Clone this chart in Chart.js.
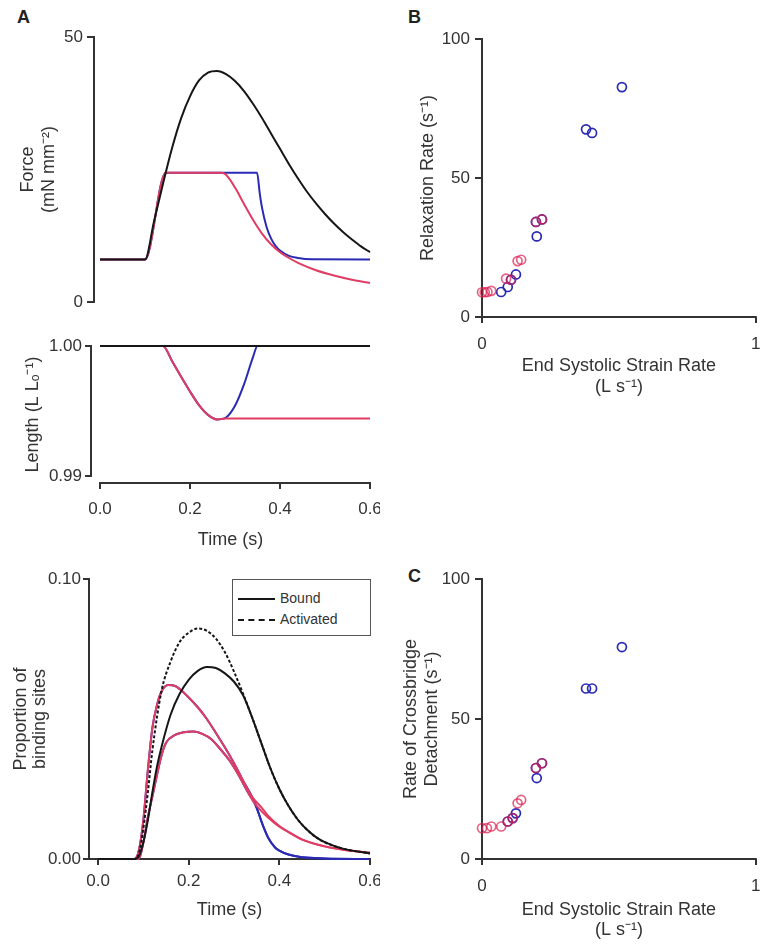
<!DOCTYPE html>
<html><head><meta charset="utf-8">
<script src="https://cdn.jsdelivr.net/npm/chart.js@4.4.1/dist/chart.umd.min.js"></script>
<style>
html,body{margin:0;padding:0;background:#fff;}
body{width:762px;height:950px;position:relative;overflow:hidden;font-family:"Liberation Sans",Arial,sans-serif;}
canvas{position:absolute;}
.lbl{position:absolute;font-weight:bold;font-size:18px;color:#222;line-height:18px;}
#legend{position:absolute;left:232px;top:579px;width:139px;height:57px;border:1px solid #555;background:#fff;box-sizing:border-box;}
.li{position:absolute;left:5px;height:16px;font-size:14px;color:#333;line-height:16px;white-space:nowrap;}
.li span.sw{display:inline-block;width:37px;height:0;vertical-align:middle;margin-right:5px;}
</style></head><body>
<div class="lbl" style="left:17px;top:8px">A</div>
<div class="lbl" style="left:408px;top:8px">B</div>
<div class="lbl" style="left:408px;top:567px">C</div>
<canvas id="cForce" width="380" height="290" style="left:0;top:20px"></canvas>
<canvas id="cLength" width="380" height="230" style="left:0;top:330px"></canvas>
<canvas id="cBind" width="380" height="385" style="left:0;top:565px"></canvas>
<canvas id="cB" width="362" height="380" style="left:400px;top:20px"></canvas>
<canvas id="cC" width="362" height="385" style="left:400px;top:565px"></canvas>
<div id="legend"></div>
<script>
// ---------- Panel A: force ----------
const forceTimeIso = [0, 0.10, 0.12, 0.14, 0.16, 0.18, 0.20, 0.22, 0.24, 0.26, 0.28, 0.30, 0.32, 0.34, 0.36, 0.38, 0.40, 0.42, 0.44, 0.46, 0.48, 0.50, 0.52, 0.54, 0.56, 0.58, 0.60];
const forceIso     = [8, 8, 15.2, 22.3, 29.0, 34.6, 38.8, 41.8, 43.3, 43.6, 43.0, 41.7, 39.8, 37.4, 34.7, 31.8, 28.9, 26.0, 23.3, 20.8, 18.6, 16.6, 14.8, 13.2, 11.8, 10.5, 9.4];
const forceTimeRed = [0, 0.10, 0.146, 0.27, 0.28, 0.30, 0.32, 0.34, 0.36, 0.38, 0.40, 0.42, 0.44, 0.48, 0.52, 0.56, 0.60];
const forceRed     = [8, 8, 24.4, 24.4, 24.0, 21.6, 18.5, 15.5, 12.9, 10.9, 9.4, 8.3, 7.4, 6.0, 5.0, 4.2, 3.6];
const forceTimeBlue = [0, 0.10, 0.146, 0.349, 0.355, 0.36, 0.37, 0.38, 0.39, 0.40, 0.42, 0.44, 0.47, 0.60];
const forceBlue     = [8, 8, 24.4, 24.4, 20.5, 17.8, 14.2, 12.0, 10.6, 9.7, 8.7, 8.3, 8.05, 8.0];

// ---------- Panel A: length ----------
const lengthTimeIso = [0, 0.6];
const lengthIso     = [1.0, 1.0];
const lengthTimeRed = [0, 0.14, 0.16, 0.18, 0.20, 0.22, 0.24, 0.26, 0.28, 0.60];
const lengthRed     = [1.0, 1.0, 0.99885, 0.99765, 0.99650, 0.99545, 0.99470, 0.99435, 0.99442, 0.99442];
const lengthTimeBlue = [0, 0.14, 0.16, 0.18, 0.20, 0.22, 0.24, 0.26, 0.28, 0.30, 0.32, 0.34, 0.35, 0.60];
const lengthBlue     = [1.0, 1.0, 0.99885, 0.99765, 0.99650, 0.99545, 0.99470, 0.99435, 0.99450, 0.99540, 0.99705, 0.99915, 1.0, 1.0];

// ---------- Panel A: binding sites ----------
const bindTimeIsoAct = [0, 0.08, 0.09, 0.10, 0.11, 0.12, 0.14, 0.16, 0.18, 0.20, 0.22, 0.24, 0.26, 0.28, 0.30, 0.32, 0.34, 0.36, 0.38, 0.40, 0.42, 0.44, 0.46, 0.48, 0.50, 0.54, 0.60];
const bindIsoAct     = [0, 0, 0.002, 0.011, 0.024, 0.039, 0.060, 0.0705, 0.0775, 0.0808, 0.0823, 0.0815, 0.0787, 0.0738, 0.0669, 0.0590, 0.0505, 0.0415, 0.0325, 0.0250, 0.0190, 0.0142, 0.0106, 0.0079, 0.0060, 0.0037, 0.0020];
const bindTimeIsoBound = [0, 0.08, 0.09, 0.10, 0.11, 0.12, 0.13, 0.14, 0.16, 0.18, 0.20, 0.22, 0.24, 0.26, 0.28, 0.30, 0.32, 0.34, 0.36, 0.38, 0.40, 0.42, 0.44, 0.46, 0.48, 0.50, 0.54, 0.60];
const bindIsoBound     = [0, 0, 0.001, 0.006, 0.014, 0.024, 0.033, 0.040, 0.0515, 0.0590, 0.0640, 0.0672, 0.0686, 0.0682, 0.0663, 0.0633, 0.0585, 0.0505, 0.0415, 0.0325, 0.0250, 0.0190, 0.0142, 0.0106, 0.0079, 0.0060, 0.0037, 0.0020];
const bindTimeRedAct = [0, 0.08, 0.09, 0.10, 0.11, 0.12, 0.13, 0.14, 0.155, 0.17, 0.18, 0.20, 0.22, 0.24, 0.26, 0.28, 0.30, 0.32, 0.34, 0.36, 0.375, 0.40, 0.42, 0.45, 0.50, 0.55, 0.60];
const bindRedAct     = [0, 0, 0.003, 0.014, 0.032, 0.047, 0.055, 0.0598, 0.0621, 0.0618, 0.0607, 0.0577, 0.0542, 0.0500, 0.0450, 0.0398, 0.0342, 0.0280, 0.0222, 0.0185, 0.0155, 0.0118, 0.0097, 0.0070, 0.0045, 0.0031, 0.0022];
const bindTimeRedBound = [0, 0.09, 0.10, 0.11, 0.12, 0.13, 0.14, 0.15, 0.17, 0.19, 0.21, 0.23, 0.25, 0.27, 0.29, 0.31, 0.33, 0.345, 0.36, 0.375, 0.40, 0.42, 0.45, 0.50, 0.55, 0.60];
const bindRedBound     = [0, 0, 0.006, 0.015, 0.0225, 0.030, 0.037, 0.0415, 0.0443, 0.0453, 0.0455, 0.0447, 0.0428, 0.0392, 0.0352, 0.0300, 0.0240, 0.0200, 0.0172, 0.0148, 0.0115, 0.0096, 0.0069, 0.0045, 0.0031, 0.0022];
const bindTimeBlueAct = [0, 0.08, 0.09, 0.10, 0.11, 0.12, 0.13, 0.14, 0.155, 0.17, 0.18, 0.20, 0.22, 0.24, 0.26, 0.28, 0.30, 0.32, 0.34, 0.35, 0.36, 0.375, 0.39, 0.40, 0.42, 0.45, 0.50, 0.60];
const bindBlueAct     = [0, 0, 0.003, 0.014, 0.032, 0.047, 0.055, 0.0598, 0.0621, 0.0618, 0.0607, 0.0577, 0.0542, 0.0500, 0.0450, 0.0398, 0.0342, 0.0280, 0.0222, 0.0185, 0.0135, 0.0078, 0.0042, 0.0030, 0.0016, 0.0006, 0.0002, 0];
const bindTimeBlueBound = [0, 0.09, 0.10, 0.11, 0.12, 0.13, 0.14, 0.15, 0.17, 0.19, 0.21, 0.23, 0.25, 0.27, 0.29, 0.31, 0.33, 0.345, 0.355, 0.365, 0.375, 0.39, 0.40, 0.42, 0.45, 0.50, 0.60];
const bindBlueBound     = [0, 0, 0.006, 0.015, 0.0225, 0.030, 0.037, 0.0415, 0.0443, 0.0453, 0.0455, 0.0447, 0.0428, 0.0392, 0.0352, 0.0300, 0.0240, 0.0200, 0.0160, 0.0115, 0.0076, 0.0042, 0.0030, 0.0016, 0.0006, 0.0002, 0];

// ---------- Panel B: relaxation rate ----------
const strainBlueB = [0.511, 0.380, 0.402, 0.200, 0.197, 0.219, 0.124, 0.106, 0.094, 0.070];
const relaxBlue   = [82.7, 67.5, 66.2, 29.0, 34.2, 35.1, 15.3, 13.4, 10.8, 9.0];
const strainRedB  = [0.197, 0.219, 0.143, 0.130, 0.106, 0.088, 0.034, 0.020, 0.010, 0.0];
const relaxRed    = [34.2, 35.1, 20.6, 20.1, 13.4, 13.8, 9.4, 9.0, 8.9, 8.9];

// ---------- Panel C: crossbridge detachment ----------
const strainBlueC = [0.511, 0.380, 0.402, 0.200, 0.197, 0.219, 0.124, 0.112, 0.094];
const detachBlue  = [75.7, 60.9, 60.9, 28.9, 32.5, 34.2, 16.3, 14.6, 13.4];
const strainRedC  = [0.197, 0.219, 0.143, 0.130, 0.112, 0.094, 0.070, 0.034, 0.018, 0.0];
const detachRed   = [32.5, 34.2, 21.1, 19.9, 14.6, 13.4, 11.6, 11.6, 11.0, 11.0];

// ---------- Tick values ----------
const timeTicks = [0, 0.2, 0.4, 0.6];
const forceTicks = [0, 50];
const lengthTicks = [0.99, 1.00];
const bindTicks = [0, 0.1];
const rateTicks = [0, 50, 100];
const strainTicks = [0, 1];

// ---------- styling ----------
const AX = '#333', TXT = '#333';
const BLACK = '#161616', RED = '#e03c64', BLUE = '#2a2ab4';
const TICK_SIZE = 17, TITLE_SIZE = 18;
Chart.defaults.font.family = '"Liberation Sans", Arial, sans-serif';
Chart.defaults.color = TXT;

const axisLines = {
  id: 'axisLines',
  beforeDatasetsDraw(chart, args, o) {
    const ctx = chart.ctx;
    (o.lines || []).forEach(l => {
      const s = chart.scales[l.scale];
      const a = l.from === 'min' ? s.min : l.from;
      const b = l.to === 'max' ? s.max : l.to;
      ctx.save();
      ctx.strokeStyle = AX; ctx.lineWidth = 2; ctx.lineCap = 'square';
      ctx.beginPath();
      if (s.isHorizontal()) {
        ctx.moveTo(s.getPixelForValue(a), s.top); ctx.lineTo(s.getPixelForValue(b), s.top);
      } else {
        ctx.moveTo(s.right, s.getPixelForValue(a)); ctx.lineTo(s.right, s.getPixelForValue(b));
      }
      ctx.stroke(); ctx.restore();
    });
  }
};
Chart.register(axisLines);

function axisCfg(o, isY) {
  if (o.display === false) return {type: 'linear', display: false, min: o.min, max: o.max};
  const c = {
    type: 'linear', min: o.min, max: o.max,
    afterBuildTicks: s => { s.ticks = o.ticks.map(v => ({value: v})); },
    afterFit: s => { if (isY) s.width = o.size; else s.height = o.size; s.paddingLeft = 0; s.paddingRight = 0; s.paddingTop = 0; s.paddingBottom = 0; },
    border: {display: false},
    grid: {drawOnChartArea: false, drawTicks: true, tickLength: o.tickLen, color: AX, lineWidth: 2},
    ticks: {callback: o.fmt, padding: o.tickPad, font: {size: TICK_SIZE}, color: TXT, maxRotation: 0, autoSkip: false},
    title: {display: false}
  };
  if (o.title) {
    c.title = {display: true, text: o.title, color: TXT,
      font: {size: TITLE_SIZE, lineHeight: o.titleLH || 1.2},
      padding: isY ? {top: o.titlePad, bottom: 0} : {top: 0, bottom: o.titlePad}};
  }
  return c;
}
function options(p) {
  return {
    responsive: false, animation: false, devicePixelRatio: 1,
    layout: {padding: p.padding},
    plugins: {legend: {display: false}, tooltip: {enabled: false}, axisLines: {lines: p.lines}},
    scales: {x: axisCfg(p.x, false), y: axisCfg(p.y, true)},
    elements: {point: {radius: 0}}
  };
}
function line(t, v, color, extra) {
  return Object.assign({data: t.map((x, i) => ({x: x, y: v[i]})), borderColor: color, borderWidth: 2,
    pointRadius: 0, fill: false, cubicInterpolationMode: 'monotone', clip: false}, extra || {});
}
function pts(xs, ys, color, label) {
  return {label: label, data: xs.map((x, i) => ({x: x, y: ys[i]})), showLine: false, pointStyle: 'circle',
    pointRadius: 4.5, pointBorderWidth: 1.7, pointBorderColor: color, pointBackgroundColor: 'rgba(0,0,0,0)', clip: false};
}
const f1 = v => Number(v).toFixed(1), f2 = v => Number(v).toFixed(2), f0 = v => String(v);

// Force
new Chart(document.getElementById('cForce'), {
  type: 'line',
  data: {datasets: [line(forceTimeIso, forceIso, BLACK), line(forceTimeRed, forceRed, RED), line(forceTimeBlue, forceBlue, BLUE)]},
  options: options({
    padding: {top: 17, right: 10, bottom: 8, left: 0},
    x: {display: false, min: -0.01333, max: 0.6},
    y: {min: 0, max: 50, ticks: forceTicks, fmt: f0, size: 94, tickLen: 7, tickPad: 4,
        title: ['Force', '(mN mm\u207B\u00B2)'], titleLH: 21 / TITLE_SIZE, titlePad: 17.5},
    lines: [{scale: 'y', from: 0, to: 50}]
  })
});

// Length
new Chart(document.getElementById('cLength'), {
  type: 'line',
  data: {datasets: [line(lengthTimeIso, lengthIso, BLACK), line(lengthTimeRed, lengthRed, RED), line(lengthTimeBlue, lengthBlue, BLUE)]},
  options: options({
    padding: {top: 16, right: 10, bottom: 0, left: 0},
    x: {min: -0.02, max: 0.6, ticks: timeTicks, fmt: f1, size: 77, tickLen: 6, tickPad: 10.5,
        title: 'Time (s)', titlePad: 9.2},
    y: {min: 0.989462, max: 1.0, ticks: lengthTicks, fmt: f2, size: 91, tickLen: 6, tickPad: 3,
        title: 'Length (L L\u2092\u207B\u00B9)', titlePad: 22.2},
    lines: [{scale: 'x', from: 0, to: 0.6}, {scale: 'y', from: 0.99, to: 1.0}]
  })
});

// Binding sites
const bindChart = new Chart(document.getElementById('cBind'), {
  type: 'line',
  data: {datasets: [
    line(bindTimeIsoBound, bindIsoBound, BLACK, {label: 'Bound'}),
    line(bindTimeIsoAct, bindIsoAct, BLACK, {label: 'Activated', borderDash: [3, 2]}),
    line(bindTimeRedAct, bindRedAct, RED),
    line(bindTimeRedBound, bindRedBound, RED),
    line(bindTimeBlueAct, bindBlueAct, BLUE),
    line(bindTimeBlueBound, bindBlueBound, BLUE)
  ]},
  options: options({
    padding: {top: 14, right: 10, bottom: 0, left: 0},
    x: {min: -0.02, max: 0.6, ticks: timeTicks, fmt: f1, size: 91, tickLen: 6, tickPad: 6.5,
        title: 'Time (s)', titlePad: 29.2},
    y: {min: 0, max: 0.1, ticks: bindTicks, fmt: f2, size: 89, tickLen: 6, tickPad: 2,
        title: ['Proportion of', 'binding sites'], titleLH: 19 / TITLE_SIZE, titlePad: 11.5},
    lines: [{scale: 'x', from: 'min', to: 0.6}, {scale: 'y', from: 0, to: 0.1}]
  })
});

// HTML legend built from the labelled datasets
(function () {
  const lg = document.getElementById('legend');
  bindChart.data.datasets.filter(d => d.label).forEach((d, i) => {
    const row = document.createElement('div');
    row.className = 'li';
    row.style.top = (10 + i * 21) + 'px';
    const sw = document.createElement('span');
    sw.className = 'sw';
    sw.style.borderTop = '2px ' + (d.borderDash ? 'dashed ' : 'solid ') + d.borderColor;
    row.appendChild(sw);
    row.appendChild(document.createTextNode(d.label));
    lg.appendChild(row);
  });
})();

// Panel B
new Chart(document.getElementById('cB'), {
  type: 'scatter',
  data: {datasets: [pts(strainRedB, relaxRed, 'rgba(220,30,80,0.7)', 'Red'), pts(strainBlueB, relaxBlue, BLUE, 'Blue')]},
  options: options({
    padding: {top: 19, right: 2, bottom: 0, left: 0},
    x: {min: 0, max: 1, ticks: strainTicks, fmt: f0, size: 83, tickLen: 6, tickPad: 11.5,
        title: ['End Systolic Strain Rate', '(L s\u207B\u00B9)'], titleLH: 21 / TITLE_SIZE, titlePad: 2.5},
    y: {min: 0, max: 100, ticks: rateTicks, fmt: f0, size: 82, tickLen: 7, tickPad: 5,
        title: 'Relaxation Rate (s\u207B\u00B9)', titlePad: 17.2},
    lines: [{scale: 'x', from: 0, to: 1}, {scale: 'y', from: 0, to: 100}]
  })
});

// Panel C
new Chart(document.getElementById('cC'), {
  type: 'scatter',
  data: {datasets: [pts(strainRedC, detachRed, 'rgba(220,30,80,0.7)', 'Red'), pts(strainBlueC, detachBlue, BLUE, 'Blue')]},
  options: options({
    padding: {top: 14, right: 2, bottom: 0, left: 0},
    x: {min: 0, max: 1, ticks: strainTicks, fmt: f0, size: 91, tickLen: 6, tickPad: 11.5,
        title: ['End Systolic Strain Rate', '(L s\u207B\u00B9)'], titleLH: 20 / TITLE_SIZE, titlePad: 10},
    y: {min: 0, max: 100, ticks: rateTicks, fmt: f0, size: 82, tickLen: 7, tickPad: 5,
        title: ['Rate of Crossbridge', 'Detachment (s\u207B\u00B9)'], titleLH: 21 / TITLE_SIZE, titlePad: 0.5},
    lines: [{scale: 'x', from: 0, to: 1}, {scale: 'y', from: 0, to: 100}]
  })
});
</script>
</body></html>
